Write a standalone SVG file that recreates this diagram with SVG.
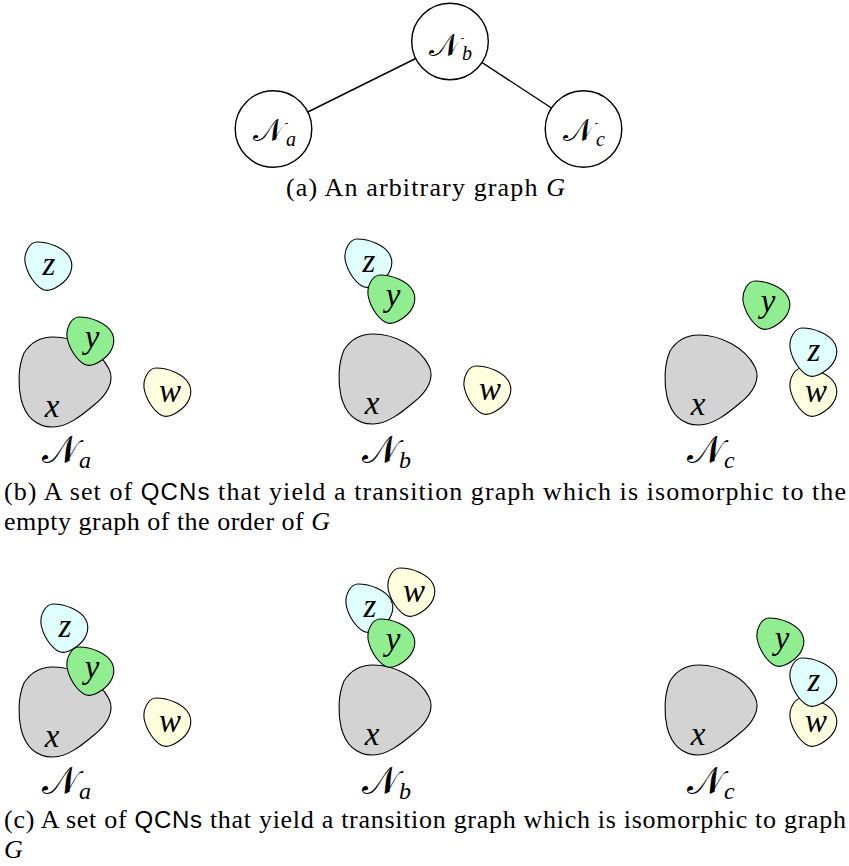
<svg xmlns="http://www.w3.org/2000/svg" xmlns:xlink="http://www.w3.org/1999/xlink" width="849" height="866" viewBox="0 0 849 866">
<style>
.edge{stroke:#000;stroke-width:1.4;fill:none}
.circ{fill:#fff;stroke:#000;stroke-width:1.4}
.blob{stroke:#000;stroke-width:1.1}
.fx{fill:#d3d3d3}.fy{fill:#90ee90}.fz{fill:#e0ffff}.fw{fill:#ffffe0}
.m{font-family:"Liberation Serif","DejaVu Serif",serif;font-style:italic;fill:#000}
.bl{font-size:33px;text-anchor:middle}
.cal{font-family:"DejaVu Serif","Noto Sans","DejaVu Sans",serif;font-style:normal;fill:#000}
.cap{font-family:"Liberation Serif","DejaVu Serif",serif;font-size:26px;fill:#000}
.sf{font-family:"Liberation Sans","DejaVu Sans",sans-serif;font-style:normal;font-size:24px}
</style>
<defs>
<path id="sb" d="M 12 0 C 24 0, 40 6, 45 16 C 50 26, 44 37, 35 43 C 28 48, 22 50, 17 47 C 10 43, 2 32, 0 20 C -1 10, 5 0, 12 0 Z"/>
<path id="bb" d="M 34 0 C 55 0, 80 12, 90 32 C 96 44, 88 58, 75 68 C 62 79, 48 90, 34 90 C 16 90, 6 78, 2 62 C -1 48, -1 30, 5 16 C 12 5, 22 0, 34 0 Z"/>
</defs>

<!-- (a) graph -->
<g id="edges">
<line class="edge" x1="273.5" y1="129" x2="450" y2="41.5"/>
<line class="edge" x1="450" y1="41.5" x2="583.5" y2="129"/>
</g>
<g id="nodeNb"><circle class="circ" cx="450" cy="41.5" r="38.3"/><text x="429" y="56" font-size="32" class="cal">𝒩<tspan class="m" font-size="20" dx="2" dy="4">b</tspan></text></g>
<g id="nodeNa"><circle class="circ" cx="273.5" cy="129" r="38.3"/><text x="253" y="141" font-size="32" class="cal">𝒩<tspan class="m" font-size="20" dx="2" dy="5">a</tspan></text></g>
<g id="nodeNc"><circle class="circ" cx="583.5" cy="129" r="38.3"/><text x="563" y="141" font-size="32" class="cal">𝒩<tspan class="m" font-size="20" dx="2" dy="5">c</tspan></text></g>
<text class="cap" x="286" y="196" textLength="279" lengthAdjust="spacing">(a) An arbitrary graph <tspan class="m">G</tspan></text>

<!-- (b) Na -->
<g id="b-Na-z" transform="translate(25,242)"><use xlink:href="#sb" class="blob fz"/><text class="m bl" x="24" y="33">z</text></g>
<g id="b-Na-x" transform="translate(19,337)"><use xlink:href="#bb" class="blob fx"/><text class="m bl" x="33" y="80">x</text></g>
<g id="b-Na-y" transform="translate(67,317)"><use xlink:href="#sb" class="blob fy"/><text class="m bl" x="25" y="31">y</text></g>
<g id="b-Na-w" transform="translate(144,368)"><use xlink:href="#sb" class="blob fw"/><text class="m bl" x="26" y="34">w</text></g>
<text x="42" y="463" font-size="38" class="cal">𝒩<tspan class="m" font-size="24" dx="1" dy="5">a</tspan></text>

<!-- (b) Nb -->
<g id="b-Nb-z" transform="translate(345,239)"><use xlink:href="#sb" class="blob fz"/><text class="m bl" x="24" y="33">z</text></g>
<g id="b-Nb-y" transform="translate(368,275)"><use xlink:href="#sb" class="blob fy"/><text class="m bl" x="25" y="31">y</text></g>
<g id="b-Nb-x" transform="translate(339,334)"><use xlink:href="#bb" class="blob fx"/><text class="m bl" x="33" y="80">x</text></g>
<g id="b-Nb-w" transform="translate(464,366)"><use xlink:href="#sb" class="blob fw"/><text class="m bl" x="26" y="34">w</text></g>
<text x="362" y="463" font-size="38" class="cal">𝒩<tspan class="m" font-size="24" dx="1" dy="5">b</tspan></text>

<!-- (b) Nc -->
<g id="b-Nc-y" transform="translate(743,281)"><use xlink:href="#sb" class="blob fy"/><text class="m bl" x="25" y="31">y</text></g>
<g id="b-Nc-w" transform="translate(790,368)"><use xlink:href="#sb" class="blob fw"/><text class="m bl" x="26" y="34">w</text></g>
<g id="b-Nc-z" transform="translate(790,328)"><use xlink:href="#sb" class="blob fz"/><text class="m bl" x="24" y="33">z</text></g>
<g id="b-Nc-x" transform="translate(665,335)"><use xlink:href="#bb" class="blob fx"/><text class="m bl" x="33" y="80">x</text></g>
<text x="687" y="463" font-size="38" class="cal">𝒩<tspan class="m" font-size="24" dx="1" dy="5">c</tspan></text>

<text class="cap" x="4" y="500" textLength="842" lengthAdjust="spacing">(b) A set of <tspan class="sf">QCNs</tspan> that yield a transition graph which is isomorphic to the</text>
<text class="cap" x="4" y="530" textLength="326" lengthAdjust="spacing">empty graph of the order of <tspan class="m">G</tspan></text>

<!-- (c) Na -->
<g id="c-Na-z" transform="translate(41,604)"><use xlink:href="#sb" class="blob fz"/><text class="m bl" x="24" y="33">z</text></g>
<g id="c-Na-x" transform="translate(19,667)"><use xlink:href="#bb" class="blob fx"/><text class="m bl" x="33" y="80">x</text></g>
<g id="c-Na-y" transform="translate(67,647)"><use xlink:href="#sb" class="blob fy"/><text class="m bl" x="25" y="31">y</text></g>
<g id="c-Na-w" transform="translate(144,698)"><use xlink:href="#sb" class="blob fw"/><text class="m bl" x="26" y="34">w</text></g>
<text x="42" y="794" font-size="38" class="cal">𝒩<tspan class="m" font-size="24" dx="1" dy="5">a</tspan></text>

<!-- (c) Nb -->
<g id="c-Nb-w" transform="translate(388,568)"><use xlink:href="#sb" class="blob fw"/><text class="m bl" x="26" y="34">w</text></g>
<g id="c-Nb-z" transform="translate(346,584)"><use xlink:href="#sb" class="blob fz"/><text class="m bl" x="24" y="33">z</text></g>
<g id="c-Nb-x" transform="translate(339,665)"><use xlink:href="#bb" class="blob fx"/><text class="m bl" x="33" y="80">x</text></g>
<g id="c-Nb-y" transform="translate(368,619)"><use xlink:href="#sb" class="blob fy"/><text class="m bl" x="25" y="31">y</text></g>
<text x="362" y="794" font-size="38" class="cal">𝒩<tspan class="m" font-size="24" dx="1" dy="5">b</tspan></text>

<!-- (c) Nc -->
<g id="c-Nc-w" transform="translate(790,698)"><use xlink:href="#sb" class="blob fw"/><text class="m bl" x="26" y="34">w</text></g>
<g id="c-Nc-z" transform="translate(790,658)"><use xlink:href="#sb" class="blob fz"/><text class="m bl" x="24" y="33">z</text></g>
<g id="c-Nc-y" transform="translate(757,618)"><use xlink:href="#sb" class="blob fy"/><text class="m bl" x="25" y="31">y</text></g>
<g id="c-Nc-x" transform="translate(665,665)"><use xlink:href="#bb" class="blob fx"/><text class="m bl" x="33" y="80">x</text></g>
<text x="687" y="794" font-size="38" class="cal">𝒩<tspan class="m" font-size="24" dx="1" dy="5">c</tspan></text>

<text class="cap" x="4" y="828" textLength="842" lengthAdjust="spacing">(c) A set of <tspan class="sf">QCNs</tspan> that yield a transition graph which is isomorphic to graph</text>
<text class="cap" x="4" y="858"><tspan class="m">G</tspan></text>
</svg>
